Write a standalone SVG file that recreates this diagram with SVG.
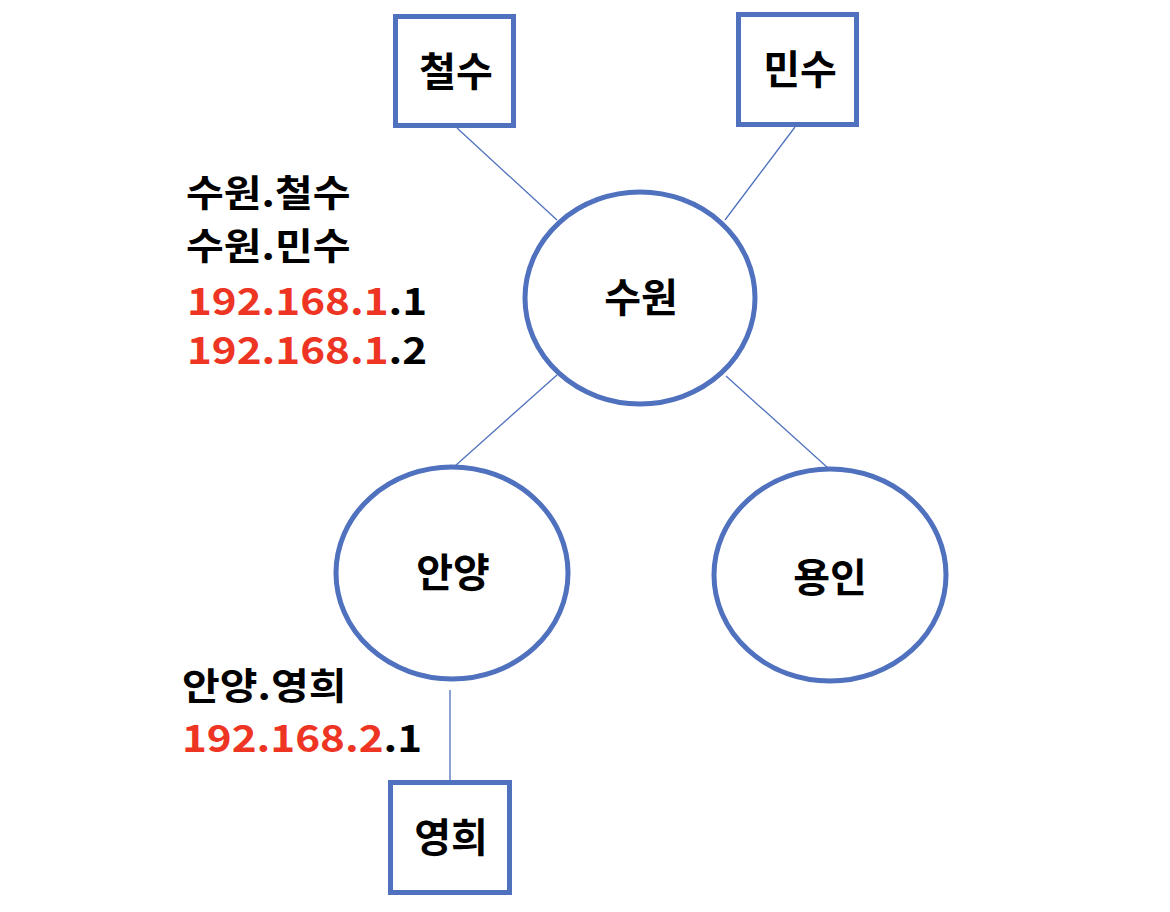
<svg xmlns="http://www.w3.org/2000/svg" width="1170" height="912" viewBox="0 0 1170 912">
<style>
.node{fill:#fff;stroke:#4F71BE;stroke-width:5}
.edge{stroke:#4F71BE;stroke-width:1.3;fill:none}
.lbl{font-family:"Noto Sans CJK KR","Noto Sans",sans-serif;font-weight:bold;font-size:40px;fill:#000;text-anchor:middle}
.note{font-family:"Noto Sans CJK KR","Noto Sans",sans-serif;font-weight:bold;font-size:37px;fill:#000}
.red{fill:#EE3524}
</style>
<rect width="1170" height="912" fill="#fff"/>
<g id="connectors">
<line class="edge" x1="457" y1="128" x2="557" y2="220"/>
<line class="edge" x1="795" y1="127" x2="725" y2="220"/>
<line class="edge" x1="557" y1="375" x2="455" y2="466"/>
<line class="edge" x1="726" y1="376" x2="828" y2="468"/>
<line class="edge" x1="450" y1="690" x2="450" y2="782"/>
</g>
<g id="node-cheolsu">
<rect class="node" x="395.5" y="16.5" width="118" height="109"/>
<text class="lbl" x="456" y="86">철수</text>
</g>
<g id="node-minsu">
<rect class="node" x="738.5" y="14.5" width="118" height="110"/>
<text class="lbl" x="800" y="84">민수</text>
</g>
<g id="node-suwon">
<ellipse class="node" cx="640" cy="298" rx="115" ry="106"/>
<text class="lbl" x="641" y="312">수원</text>
</g>
<g id="node-anyang">
<ellipse class="node" cx="452" cy="573" rx="116" ry="106"/>
<text class="lbl" x="453" y="587">안양</text>
</g>
<g id="node-yongin">
<ellipse class="node" cx="830" cy="575" rx="116" ry="106"/>
<text class="lbl" x="830" y="592">용인</text>
</g>
<g id="node-younghee">
<rect class="node" x="390.5" y="782.5" width="119" height="110"/>
<text class="lbl" x="451" y="852">영희</text>
</g>
<g id="notes">
<text class="note" transform="translate(186,207) scale(1.11,1)">수원.철수</text>
<text class="note" transform="translate(186,260) scale(1.11,1)">수원.민수</text>
<text class="note" transform="translate(187,315) scale(1.14,1)"><tspan class="red">192.168.1</tspan>.1</text>
<text class="note" transform="translate(187,364) scale(1.14,1)"><tspan class="red">192.168.1</tspan>.2</text>
<text class="note" transform="translate(182,700) scale(1.11,1)">안양.영희</text>
<text class="note" transform="translate(182,752) scale(1.14,1)"><tspan class="red">192.168.2</tspan>.1</text>
</g>
</svg>
